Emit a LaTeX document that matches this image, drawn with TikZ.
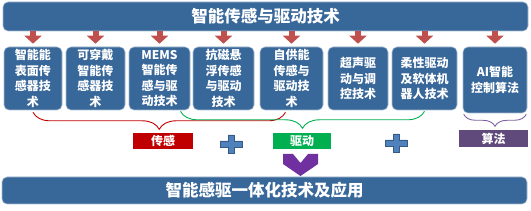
\documentclass[tikz,border=0pt]{standalone}
\usepackage{fontspec}
\setmainfont{Noto Sans CJK SC}
\usetikzlibrary{arrows.meta,decorations.pathreplacing}
\definecolor{barblue}{RGB}{56,103,153}
\definecolor{arrred}{RGB}{192,80,77}
\definecolor{senred}{RGB}{192,0,0}
\definecolor{drvgreen}{RGB}{0,176,80}
\definecolor{algpurple}{RGB}{96,74,123}
\definecolor{bracepurple}{RGB}{128,100,162}
\definecolor{plusblue}{RGB}{79,129,189}
\definecolor{chevpurple}{RGB}{112,48,160}
\tikzset{
  bar/.style={fill=barblue, draw=white!55!barblue, line width=0.6pt, rounded corners=5pt,
    text=white, font=\bfseries\fontsize{16.5}{19}\selectfont},
  techbox/.style={fill=barblue, draw=white!55!barblue, line width=0.6pt, rounded corners=5pt,
    text=white, align=center, minimum height=63pt, inner sep=0pt,
    font=\bfseries\fontsize{12}{15.5}\selectfont},
  tag/.style={text=white, minimum height=16pt, inner sep=0pt,
    font=\bfseries\fontsize{12}{14}\selectfont},
  downarr/.style={arrred, line width=6pt, -{Triangle[width=17pt 0, length=8pt 0]}, shorten >=3pt},
  bracket/.style={line width=0.9pt, decorate, decoration={brace, mirror, amplitude=17pt}}
}
\begin{document}
\begin{tikzpicture}[x=1pt,y=-1pt]
\useasboundingbox (0,0) rectangle (531,211);
\node[bar, minimum width=525pt, minimum height=29pt] (top) at (265.5,16.5) {智能传感与驱动技术};
% technology boxes
\node[techbox, minimum width=58pt] (b1) at (33,78.5) {智能能\\表面传\\感器技\\术};
\node[techbox, minimum width=59pt] (b2) at (95.5,78.5) {可穿戴\\智能传\\感器技\\术};
\node[techbox, minimum width=61pt] (b3) at (159.5,78.5) {MEMS\\智能传\\感与驱\\动技术};
\node[techbox, minimum width=61pt] (b4) at (223.5,78.5) {抗磁悬\\浮传感\\与驱动\\技术};
\node[techbox, minimum width=63pt] (b5) at (291.5,78.5) {自供能\\传感与\\驱动技\\术};
\node[techbox, minimum width=60pt] (b6) at (358,78.5) {超声驱\\动与调\\控技术};
\node[techbox, minimum width=65pt] (b7) at (424.5,78.5) {柔性驱动\\及软体机\\器人技术};
\node[techbox, minimum width=64pt, minimum height=66pt] (b8) at (495,80) {AI智能\\控制算法};
\foreach \b in {b1,b2,b3,b4,b5,b6,b7,b8}
  \draw[downarr] (\b.north |- top.south) -- (\b.north);
% braces and tags
\draw[bracket, senred] ([yshift=-2pt]b1.south) -- ([xshift=-6pt,yshift=-2pt]b5.south);
\draw[bracket, drvgreen] ([xshift=21pt,yshift=-1pt]b3.south) -- ([yshift=-1pt]b7.south);
\draw[bracket, bracepurple, decoration={amplitude=12pt}] ([xshift=1pt,yshift=-1pt]b8.south west) -- ([xshift=-1pt,yshift=-1pt]b8.south east);
\node[tag, fill=senred, minimum width=60pt] (sen) at (163,141) {传感};
\node[tag, fill=drvgreen, minimum width=58pt] (drv) at (302,141) {驱动};
\node[tag, fill=algpurple, minimum width=69pt, minimum height=17pt] (alg) at (493.5,138.5) {算法};
% plus signs
\foreach \px/\py in {231/144, 396/143}
  \filldraw[fill=plusblue, draw=plusblue!70!black, line width=0.5pt, shift={(\px,\py)}]
    (-3,-9) -- (3,-9) -- (3,-3) -- (11,-3) -- (11,3) -- (3,3) -- (3,9) -- (-3,9)
    -- (-3,3) -- (-11,3) -- (-11,-3) -- (-3,-3) -- cycle;
% chevron
\fill[chevpurple] (283,154) -- (293,154) -- (300.5,163) -- (308,154) -- (318,154)
  -- (318,164) -- (300.5,176) -- (283,164) -- cycle;
\node[bar, minimum width=525pt, minimum height=27pt] (bottom) at (264.5,190.5) {智能感驱一体化技术及应用};
\end{tikzpicture}
\end{document}
